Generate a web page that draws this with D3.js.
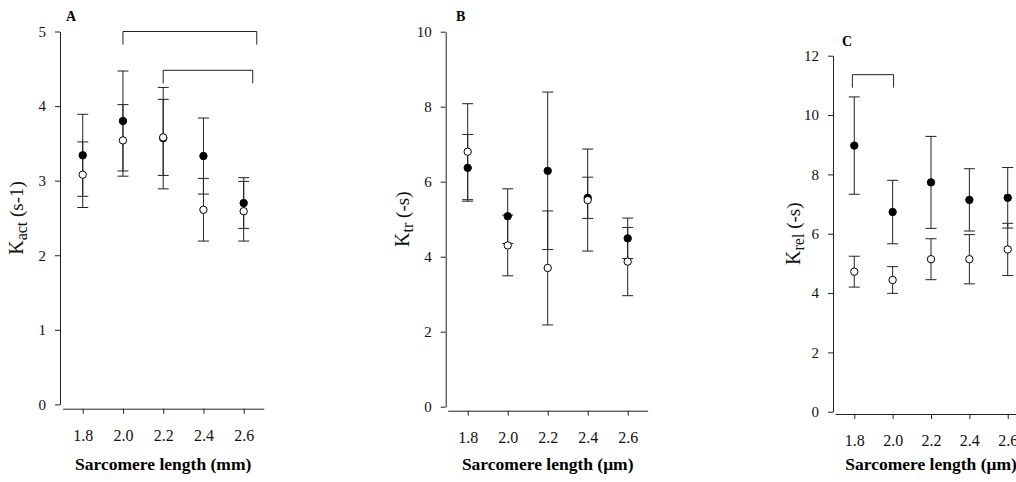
<!DOCTYPE html>
<html>
<head>
<meta charset="utf-8">
<script src="https://cdn.jsdelivr.net/npm/d3@7/dist/d3.min.js"></script>
<style>
	html, body { margin: 0; padding: 0; background: #fff; }
	svg { display: block; }
	svg text { font-family: "Liberation Serif", "Times New Roman", Times, "DejaVu Serif", serif; }
</style>
</head>
<body>
<svg id="chart" width="1016" height="482"></svg>
<script>
'use strict';

////////// Data //////////
const sarcomereLengths = [1.8, 2.0, 2.2, 2.4, 2.6];

// panel A - Kact
const kactFilled = [3.34, 3.80, 3.57, 3.33, 2.70];
const kactFilledErr = [0.55, 0.67, 0.68, 0.51, 0.34];
const kactOpen = [3.08, 3.54, 3.58, 2.61, 2.59];
const kactOpenErr = [0.44, 0.48, 0.51, 0.42, 0.40];
const kactTicks = [0, 1, 2, 3, 4, 5];
const kactBrackets = [
	{ from: 2.0, to: 2.665, level: 5.0 },
	{ from: 2.2, to: 2.645, level: 4.48 }
];

// panel B - Ktr
const ktrFilled = [6.37, 5.08, 6.29, 5.57, 4.49];
const ktrFilledErr = [0.89, 0.73, 2.10, 0.55, 0.54];
const ktrOpen = [6.80, 4.30, 3.70, 5.51, 3.87];
const ktrOpenErr = [1.28, 0.81, 1.52, 1.36, 0.91];
const ktrTicks = [0, 2, 4, 6, 8, 10];

// panel C - Krel
const krelFilled = [8.97, 6.73, 7.73, 7.14, 7.21];
const krelFilledErr = [1.64, 1.07, 1.55, 1.05, 1.02];
const krelOpen = [4.72, 4.44, 5.14, 5.14, 5.47];
const krelOpenErr = [0.52, 0.45, 0.69, 0.83, 0.88];
const krelTicks = [0, 2, 4, 6, 8, 10, 12];
const krelBrackets = [
	{ from: 1.79, to: 2.005, level: 11.36 }
];


////////// Layout / style //////////
const serif = '"Liberation Serif", "Times New Roman", Times, "DejaVu Serif", serif';
const tickFont = 15;
const xTickFont = 16;
const capHalf = 5.5;
const markerR = 3.7;
const bracketDrop = 13;
const lineColor = '#222';

const panels = [
	{
		label: 'A', labelX: 66, labelY: 21,
		axisX: 60, xRange: [62.6, 263.8], yRange: [404.4, 31.5], yMax: 5, xAxisY: 408.7,
		ticks: kactTicks, filled: kactFilled, filledErr: kactFilledErr, open: kactOpen, openErr: kactOpenErr,
		brackets: kactBrackets,
		yTitle: ['K', 'act', ' (s-1)'], yTitleX: 23,
		xTitle: 'Sarcomere length (mm)'
	},
	{
		label: 'B', labelX: 456, labelY: 21,
		axisX: 445.7, xRange: [447.7, 647.7], yRange: [406.7, 31.7], yMax: 10, xAxisY: 410.7,
		ticks: ktrTicks, filled: ktrFilled, filledErr: ktrFilledErr, open: ktrOpen, openErr: ktrOpenErr,
		brackets: [],
		yTitle: ['K', 'tr', ' (-s)'], yTitleX: 409,
		xTitle: 'Sarcomere length (\u03bcm)'
	},
	{
		label: 'C', labelX: 842, labelY: 46,
		axisX: 833, xRange: [835.1, 1026.9], yRange: [411.7, 55.7], yMax: 12, xAxisY: 414,
		ticks: krelTicks, filled: krelFilled, filledErr: krelFilledErr, open: krelOpen, openErr: krelOpenErr,
		brackets: krelBrackets,
		yTitle: ['K', 'rel', ' (-s)'], yTitleX: 800,
		xTitle: 'Sarcomere length (\u03bcm)'
	}
];

const svg = d3.select('#chart');


////////////////////////////////////////////////////////////////
	// Draw one panel
////////////////////////////////////////////////////////////////

const drawPanel = p => {
	const x = d3.scaleLinear().domain([1.7, 2.7]).range(p.xRange);
	const y = d3.scaleLinear().domain([0, p.yMax]).range(p.yRange);
	const g = svg.append('g').attr('class', 'panel' + p.label);

	// y axis
	const yAxis = g.append('g')
		.attr('transform', `translate(${p.axisX},0)`)
		.call(d3.axisLeft(y).tickValues(p.ticks).tickFormat(d3.format('d')).tickSize(5).tickSizeOuter(0).tickPadding(9));
	// x axis (sits a little below zero, detached from y axis)
	const xAxis = g.append('g')
		.attr('transform', `translate(0,${p.xAxisY})`)
		.call(d3.axisBottom(x).tickValues(sarcomereLengths).tickFormat(d3.format('.1f')).tickSize(5).tickSizeOuter(0).tickPadding(16));

	[yAxis, xAxis].forEach(a => {
		a.attr('font-family', serif).attr('font-size', null);
		a.selectAll('path, line').attr('stroke', lineColor).attr('stroke-width', 1);
		a.selectAll('text').attr('fill', '#111').style('font-family', serif);
	});
	yAxis.selectAll('text').style('font-size', tickFont + 'px');
	xAxis.selectAll('text').style('font-size', xTickFont + 'px');

	// significance brackets
	p.brackets.forEach(b => {
		const yb = y(b.level);
		g.append('path')
			.attr('d', `M${x(b.from)},${yb + bracketDrop}V${yb}H${x(b.to)}V${yb + bracketDrop}`)
			.attr('fill', 'none')
			.attr('stroke', lineColor)
			.attr('stroke-width', 1);
	});

	// error bars (both series, under the markers)
	const series = [
		{ vals: p.filled, errs: p.filledErr, fill: '#000' },
		{ vals: p.open, errs: p.openErr, fill: '#fff' }
	];
	series.forEach(s => {
		const bars = g.append('g').attr('stroke', lineColor).attr('stroke-width', 1).attr('fill', 'none');
		sarcomereLengths.forEach((sl, i) => {
			const cx = x(sl);
			const hi = y(s.vals[i] + s.errs[i]);
			const lo = y(s.vals[i] - s.errs[i]);
			bars.append('path')
				.attr('d', `M${cx},${hi}V${lo}M${cx - capHalf},${hi}H${cx + capHalf}M${cx - capHalf},${lo}H${cx + capHalf}`);
		});
	});

	// markers: filled first, open on top
	series.forEach(s => {
		g.append('g').selectAll('circle')
			.data(sarcomereLengths)
			.join('circle')
			.attr('cx', d => x(d))
			.attr('cy', (d, i) => y(s.vals[i]))
			.attr('r', markerR)
			.attr('fill', s.fill)
			.attr('stroke', '#000')
			.attr('stroke-width', 1);
	});

	// panel letter
	g.append('text')
		.attr('x', p.labelX)
		.attr('y', p.labelY)
		.style('font-family', serif)
		.style('font-size', '14px')
		.style('font-weight', 'bold')
		.text(p.label);

	// x title
	g.append('text')
		.attr('x', x(2.2))
		.attr('y', 470)
		.attr('text-anchor', 'middle')
		.style('font-family', serif)
		.style('font-size', '17.5px')
		.style('font-weight', 'bold')
		.text(p.xTitle);

	// y title with subscript
	const midY = (p.yRange[0] + p.yRange[1]) / 2;
	const yt = g.append('text')
		.attr('transform', `translate(${p.yTitleX},${midY}) rotate(-90)`)
		.attr('text-anchor', 'middle')
		.style('font-family', serif)
		.attr('fill', '#111');
	yt.append('tspan').style('font-size', '20px').text(p.yTitle[0]);
	yt.append('tspan').style('font-size', '16px').attr('dy', 4).text(p.yTitle[1]);
	yt.append('tspan').style('font-size', '19px').attr('dy', -4).text(p.yTitle[2]);
};

panels.forEach(drawPanel);
</script>
</body>
</html>
